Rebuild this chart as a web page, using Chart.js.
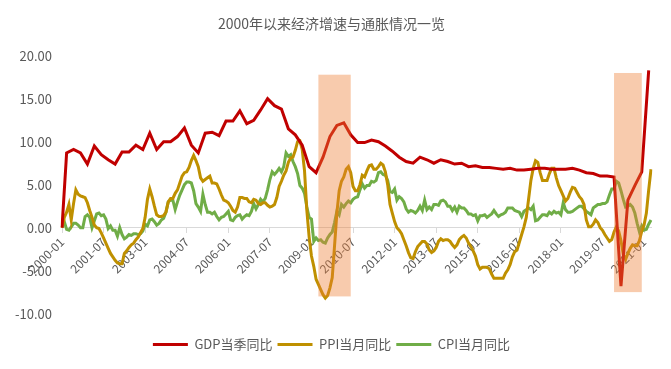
<!DOCTYPE html>
<html>
<head>
<meta charset="utf-8">
<script src="https://cdn.jsdelivr.net/npm/chart.js@4"></script>
<style>
  html, body { margin: 0; padding: 0; background: #fff; }
  #wrap { width: 671px; height: 369px; position: relative; }
</style>
</head>
<body>
<div id="wrap"><canvas id="chart"></canvas></div>
<script>
// months 2000-01 .. 2021-04
const firstYear = 2000;
const lastYear = 2021;
const lastMonth = 4;

// GDP当季同比, one value per quarter (placed on 03/06/09/12), first row of the sheet is 0
const gdpStart = 0;
const gdpQuarterly = [
  8.7, 9.1, 8.7, 7.4,
  9.5, 8.5, 7.9, 7.4,
  8.8, 8.8, 9.6, 9.1,
  11.0, 9.1, 10.0, 10.0,
  10.6, 11.6, 9.6, 8.7,
  11.0, 11.1, 10.7, 12.4,
  12.4, 13.6, 12.1, 12.5,
  13.7, 15.0, 14.2, 13.8,
  11.5, 10.8, 9.6, 7.1,
  6.4, 8.2, 10.6, 11.9,
  12.2, 10.8, 9.9, 9.9,
  10.2, 10.0, 9.5, 8.9,
  8.2, 7.7, 7.5, 8.2,
  7.9, 7.5, 7.9, 7.7,
  7.4, 7.5, 7.1, 7.2,
  7.0, 7.0, 6.9, 6.8,
  6.9, 6.7, 6.7, 6.8,
  6.9, 6.9, 6.8, 6.8,
  6.8, 6.9, 6.7, 6.4,
  6.3, 6.0, 6.0, 5.9,
  -6.8, 3.2, 4.9, 6.5,
  18.3
];

// PPI当月同比
const ppiMonthly = [
  0, 1.2, 1.8, 2.7, 0.9, 2.8, 4.4, 3.9, 3.7, 3.6, 3.5, 2.9,
  2.0, 1.2, 0.3, 0.0, -0.1, -0.6, -1.2, -1.8, -2.4, -3.0, -3.4, -3.8,
  -4.1, -4.2, -4.2, -3.0, -2.7, -2.3, -2.0, -1.8, -1.4, -1.1, -0.6, -0.1,
  1.2, 3.3, 4.5, 3.6, 2.5, 1.5, 1.3, 1.3, 1.4, 1.8, 3.0, 3.4,
  3.4, 4.0, 4.4, 5.2, 6.0, 6.4, 6.5, 7.0, 7.8, 8.4, 7.8, 7.1,
  5.8, 5.4, 5.6, 5.8, 6.0, 5.2, 5.2, 5.1, 4.5, 3.8, 3.2, 3.1,
  2.9, 2.5, 2.0, 1.8, 2.4, 3.5, 3.5, 3.4, 3.4, 3.0, 2.9, 3.3,
  3.2, 2.8, 2.7, 2.9, 2.9, 2.6, 2.4, 2.5, 2.7, 3.5, 4.8, 5.4,
  6.1, 6.6, 7.6, 8.1, 8.2, 9.0, 10.0, 10.1, 9.1, 6.6, 2.0, -1.1,
  -3.3, -4.5, -6.0, -6.6, -7.2, -7.8, -8.2, -7.9, -7.0, -5.8, -2.1, 1.7,
  4.3, 5.4, 5.9, 6.8, 7.1, 6.4, 4.8, 4.3, 4.3, 5.0, 6.1, 5.9,
  6.6, 7.2, 7.3, 6.8, 6.8, 7.1, 7.5, 7.3, 6.5, 5.0, 2.7, 1.7,
  0.7, 0.0, -0.3, -0.7, -1.4, -2.1, -2.9, -3.5, -3.6, -2.8, -2.2, -1.9,
  -1.6, -1.6, -1.9, -2.6, -2.9, -2.7, -2.3, -1.6, -1.3, -1.5, -1.4, -1.4,
  -1.6, -2.0, -2.3, -2.0, -1.4, -1.1, -0.9, -1.2, -1.8, -2.2, -2.7, -3.3,
  -4.3, -4.8, -4.6, -4.6, -4.6, -4.8, -5.4, -5.9, -5.9, -5.9, -5.9, -5.9,
  -5.3, -4.9, -4.3, -3.4, -2.8, -2.6, -1.7, -0.8, 0.1, 1.2, 3.3, 5.5,
  6.9, 7.8, 7.6, 6.4, 5.5, 5.5, 5.5, 6.3, 6.9, 6.9, 5.8, 4.9,
  4.3, 3.7, 3.1, 3.4, 4.1, 4.7, 4.6, 4.1, 3.6, 3.3, 2.7, 0.9,
  0.1, 0.1, 0.4, 0.9, 0.6, 0.0, -0.3, -0.8, -1.2, -1.6, -1.4, -0.5,
  0.1, -0.4, -1.5, -3.1, -3.7, -3.0, -2.4, -2.0, -2.1, -2.1, -1.5, -0.4,
  0.3, 1.7, 4.4, 6.8
];

// CPI当月同比
const cpiMonthly = [
  0, 0.7, -0.2, -0.3, 0.1, 0.5, 0.5, 0.3, 0.0, 0.0, 1.3, 1.5,
  1.2, 0.0, 0.8, 1.6, 1.7, 1.4, 1.5, 1.0, -0.1, 0.2, -0.3, -0.3,
  -1.0, 0.0, -0.8, -1.3, -1.1, -0.8, -0.9, -0.7, -0.7, -0.8, -0.7, -0.4,
  0.4, 0.2, 0.9, 1.0, 0.7, 0.3, 0.5, 0.9, 1.1, 1.8, 3.0, 3.2,
  3.2, 2.1, 3.0, 3.8, 4.4, 5.0, 5.3, 5.3, 5.2, 4.3, 2.8, 2.4,
  1.9, 3.9, 2.7, 1.8, 1.8, 1.6, 1.8, 1.3, 0.9, 1.2, 1.3, 1.6,
  1.9, 0.9, 0.8, 1.2, 1.4, 1.5, 1.0, 1.3, 1.5, 1.4, 1.9, 2.8,
  2.2, 2.7, 3.3, 3.0, 3.4, 4.4, 5.6, 6.5, 6.2, 6.5, 6.9, 6.5,
  7.1, 8.7, 8.3, 8.5, 7.7, 7.1, 6.3, 4.9, 4.6, 4.0, 2.4, 1.2,
  1.0, -1.6, -1.2, -1.5, -1.4, -1.7, -1.8, -1.2, -0.8, -0.5, 0.6, 1.9,
  1.5, 2.7, 2.4, 2.8, 3.1, 2.9, 3.3, 3.5, 3.6, 4.4, 5.1, 4.6,
  4.9, 4.9, 5.4, 5.3, 5.5, 6.4, 6.5, 6.2, 6.1, 5.5, 4.2, 4.1,
  4.5, 3.2, 3.6, 3.4, 3.0, 2.2, 1.8, 2.0, 1.9, 1.7, 2.0, 2.5,
  2.0, 3.2, 2.1, 2.4, 2.1, 2.7, 2.7, 2.6, 3.1, 3.2, 3.0, 2.5,
  2.5, 2.0, 2.4, 1.8, 2.5, 2.3, 2.3, 2.0, 1.6, 1.6, 1.4, 1.5,
  0.8, 1.4, 1.4, 1.5, 1.2, 1.4, 1.6, 2.0, 1.6, 1.3, 1.5, 1.6,
  1.8, 2.3, 2.3, 2.3, 2.0, 1.9, 1.8, 1.3, 1.9, 2.1, 2.3, 2.1,
  2.5, 0.8, 0.9, 1.2, 1.5, 1.5, 1.4, 1.8, 1.6, 1.9, 1.7, 1.8,
  1.5, 2.9, 2.1, 1.8, 1.8, 1.9, 2.1, 2.3, 2.5, 2.5, 2.2, 1.9,
  1.7, 1.5, 2.3, 2.5, 2.7, 2.7, 2.8, 2.8, 3.0, 3.8, 4.5, 4.5,
  5.4, 5.2, 4.3, 3.3, 2.4, 2.5, 2.7, 2.4, 1.7, 0.5, -0.5, 0.2,
  -0.3, -0.2, 0.4, 0.9
];

// shaded periods: [from, to, low, high]
const shadePeriods = [
  ['2009-04', '2010-06', -8.0, 17.8],
  ['2019-12', '2020-12', -7.5, 18.0]
];

const labelEvery = 18;

// build month labels
const labels = [];
for (let y = firstYear; y <= lastYear; y++) {
  for (let m = 1; m <= 12; m++) {
    if (y === lastYear && m > lastMonth) break;
    labels.push(y + '-' + String(m).padStart(2, '0'));
  }
}

// GDP onto the monthly axis (gaps between quarters)
const gdp = labels.map(() => null);
gdp[0] = gdpStart;
gdpQuarterly.forEach((v, i) => { gdp[2 + i * 3] = v; });

const FONT = "'Microsoft YaHei', 'Noto Sans CJK SC', sans-serif";
const GRAY = '#595959';

function series(label, data, color, extra) {
  return Object.assign({
    label: label,
    data: data,
    borderColor: color,
    backgroundColor: color,
    pointBorderColor: color,
    pointBackgroundColor: color,
    pointBorderWidth: 3
  }, extra || {});
}

const shadePlugin = {
  id: 'shade',
  afterDatasetsDraw(chart) {
    const { ctx, scales: { x, y } } = chart;
    ctx.save();
    ctx.fillStyle = 'rgba(237,125,49,0.4)';
    shadePeriods.forEach(([a, b, lo, hi]) => {
      const x1 = x.getPixelForValue(labels.indexOf(a));
      const x2 = x.getPixelForValue(labels.indexOf(b));
      const y1 = y.getPixelForValue(hi);
      const y2 = y.getPixelForValue(lo);
      ctx.fillRect(x1, y1, x2 - x1, y2 - y1);
    });
    ctx.restore();
  }
};

new Chart(document.getElementById('chart'), {
  type: 'line',
  data: {
    labels: labels,
    datasets: [
      series('GDP当季同比', gdp, '#C00000', { spanGaps: true }),
      series('PPI当月同比', ppiMonthly, '#BF9000'),
      series('CPI当月同比', cpiMonthly, '#70AD47')
    ]
  },
  options: {
    responsive: true,
    maintainAspectRatio: false,
    animation: false,
    elements: {
      point: { radius: 0, hoverRadius: 0 },
      line: { borderWidth: 3, tension: 0 }
    },
    layout: { padding: { left: 12, right: 20, top: 8, bottom: 8 } },
    plugins: {
      title: {
        display: true,
        text: '2000年以来经济增速与通胀情况一览',
        color: GRAY,
        font: { family: FONT, size: 14, weight: 'normal' },
        padding: { top: 7, bottom: 24 }
      },
      legend: {
        position: 'bottom',
        title: { display: true, text: ' ', font: { size: 2 }, padding: { top: 0, bottom: 17 } },
        labels: {
          color: GRAY,
          font: { family: FONT, size: 13 },
          usePointStyle: true,
          pointStyle: 'line',
          pointStyleWidth: 35,
          padding: 5
        }
      },
      tooltip: { enabled: false }
    },
    scales: {
      x: {
        position: { y: 0 },
        grid: {
          drawOnChartArea: false,
          drawTicks: true,
          tickLength: 5,
          tickColor: (c) => (c.index % labelEvery === 0 ? '#D9D9D9' : 'rgba(0,0,0,0)')
        },
        border: { color: '#D9D9D9', width: 1 },
        ticks: {
          autoSkip: false,
          maxRotation: 45,
          minRotation: 45,
          color: GRAY,
          font: { family: FONT, size: 12 },
          padding: 2,
          callback: function (v, i) { return i % labelEvery === 0 ? this.getLabelForValue(v) : ''; }
        }
      },
      y: {
        min: -10,
        max: 20,
        afterFit: (scale) => { scale.width = 50; },
        grid: { display: false, drawTicks: false },
        border: { display: false },
        ticks: {
          stepSize: 5,
          color: GRAY,
          font: { family: FONT, size: 13 },
          padding: 10,
          callback: (v) => v.toFixed(2)
        }
      }
    }
  },
  plugins: [shadePlugin]
});
</script>
</body>
</html>
